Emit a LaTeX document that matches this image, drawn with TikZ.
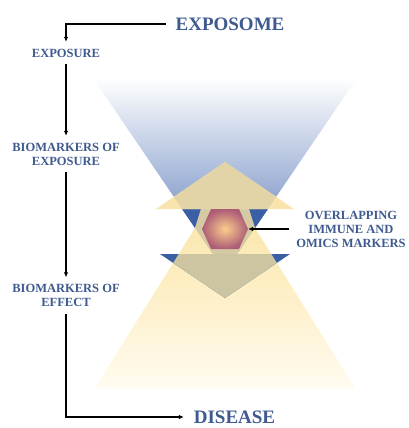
\documentclass[tikz,border=0pt]{standalone}
\usepackage{fontspec}
\setmainfont{Liberation Serif}
\usepackage{xcolor}
\usepackage{tikz}
\usetikzlibrary{arrows.meta,calc}
\definecolor{labelblue}{RGB}{62,90,142}
\definecolor{funmid}{RGB}{168,185,218}
\definecolor{funbot}{RGB}{78,108,172}
\definecolor{yeltop}{RGB}{248,225,160}
\definecolor{yelmid}{RGB}{253,238,195}
\definecolor{yelbot}{RGB}{255,251,240}
\definecolor{wedgeblue}{RGB}{58,95,165}
\definecolor{overlaptan}{RGB}{214,202,165}
\definecolor{arrowyel}{RGB}{248,228,172}
\definecolor{arrowtan}{RGB}{226,212,166}
\definecolor{downtan}{RGB}{205,197,162}
\definecolor{hexin}{RGB}{252,205,140}
\definecolor{hexout}{RGB}{172,92,118}
\tikzset{
    lbl/.style={text=labelblue, font=\fontsize{12.5}{14}\selectfont\bfseries, align=center, inner sep=0pt, outer sep=7pt},
    ttl/.style={text=labelblue, font=\fontsize{19}{22}\selectfont\bfseries, inner sep=0pt, outer sep=10pt},
    conn/.style={line width=1.2pt, black, -{Latex[length=5pt,width=4.5pt]}}}

\begin{document}
\begin{tikzpicture}[x=1pt,y=-1pt]
\useasboundingbox (0,0) rectangle (408,428);
% funnels
\coordinate (Blu) at (93,78);
\coordinate (Bru) at (357,78);
\coordinate (Bap) at (225,272);
\coordinate (Yld) at (95,388);
\coordinate (Yrd) at (355,388);
\coordinate (Yap) at (225,180);
\shade[top color=white, bottom color=funbot, middle color=funmid] (Blu) -- (Bru) -- (Bap) -- cycle;
\shade[top color=yeltop, bottom color=yelbot, middle color=yelmid] (Yld) -- (Yrd) -- (Yap) -- cycle;
% middle band
\fill[wedgeblue] (182,209) -- (201,209) -- (195,228) -- cycle;
\fill[wedgeblue] (268,209) -- (249,209) -- (255,228) -- cycle;
\fill[overlaptan] (201,209) -- (249,209) -- (255,228) -- (Bap) -- (195,228) -- cycle;
% arrow heads
\coordinate (Uap) at (225,162);
\coordinate (Ul) at (156,209);
\coordinate (Ur) at (294,209);
\coordinate (Dl) at (160,254);
\coordinate (Dr) at (290,254);
\coordinate (Dap) at (225,298);
\fill[arrowyel] (Uap) -- (Ul) -- (Ur) -- cycle;
\begin{scope}
\clip (Blu) -- (Bru) -- (Bap) -- cycle;
\fill[arrowtan] (Uap) -- (Ul) -- (Ur) -- cycle;
\end{scope}
\fill[wedgeblue] (Dl) -- (Dr) -- (Dap) -- cycle;
\begin{scope}
\clip (Yld) -- (Yrd) -- (Yap) -- cycle;
\fill[downtan] (Dl) -- (Dr) -- (Dap) -- cycle;
\end{scope}
% markers
\shade[inner color=hexin, outer color=hexout] (211,209) -- (239,209) -- (248,229) coordinate (hexR) -- (239,249) -- (211,249) -- (202,229) -- cycle;

\node[ttl] (exposome) at (230,24) {EXPOSOME};
\node[ttl] (disease) at (234.5,417) {DISEASE};
\node[lbl] (exposure) at (66,53) {EXPOSURE};
\node[lbl] (biomexp) at (66,154) {BIOMARKERS OF\\EXPOSURE};
\node[lbl] (biomeff) at (66,295.5) {BIOMARKERS OF\\EFFECT};
\node[lbl] (overlap) at (351,229) {OVERLAPPING\\IMMUNE AND\\OMICS MARKERS};

\draw[conn] (exposome.west) -| (exposure.north);
\draw[conn] (exposure.south) -- (biomexp.north);
\draw[conn] (biomexp.south) -- (biomeff.north);
\draw[conn] (biomeff.south) |- (disease.west);
\draw[conn] (overlap.west) -- (hexR);
\end{tikzpicture}
\end{document}
